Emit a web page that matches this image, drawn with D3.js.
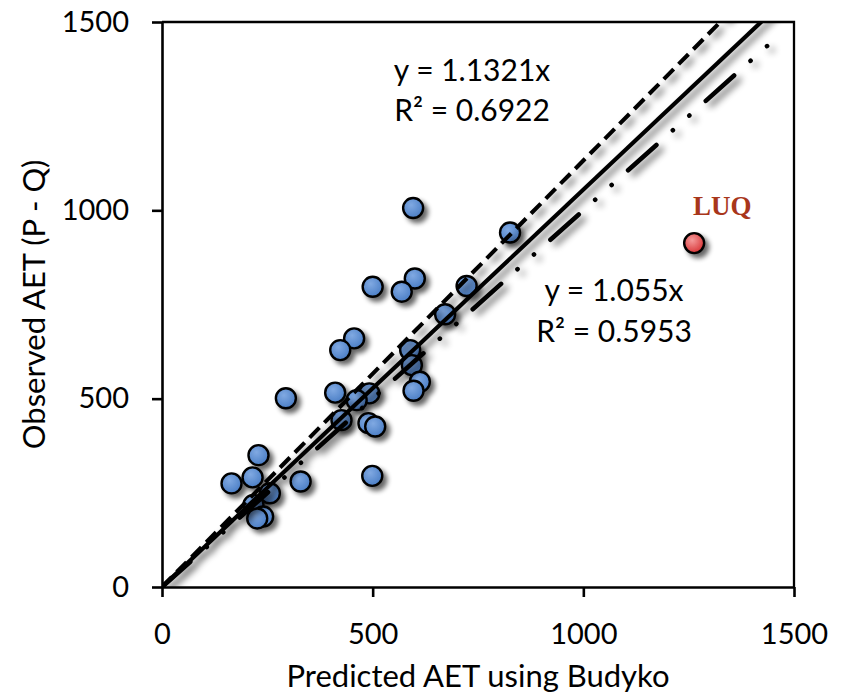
<!DOCTYPE html>
<html>
<head>
<meta charset="utf-8">
<script src="https://cdn.jsdelivr.net/npm/d3@7"></script>
<style>
  body { margin: 0; background: #fff; }
  svg { display: block; }
  text { font-family: Lato, "Open Sans", sans-serif; fill: #000; }
</style>
</head>
<body>
<svg id="chart" width="848" height="695"></svg>
<script>
// predicted AET (Budyko) vs observed AET (P - Q)
const predicted = [596, 600, 569, 500, 723, 672, 589, 593, 456, 423, 612, 597, 411, 294, 492,
                   462, 426, 490, 506, 826, 499, 229, 215, 165, 329, 256, 217, 240, 226];
const observed  = [1006, 819, 784, 797, 799, 724, 629, 589, 660, 629, 545, 521, 516, 501, 514,
                   496, 443, 435, 426, 941, 295, 350, 291, 275, 280, 249, 218, 187, 182];
const outlier = { name: "LUQ", x: 1263, y: 913 };
const ticks = [0, 500, 1000, 1500];
const fits = [
  { slope: 1.1321, r2: "0.6922", style: "dashed" },
  { slope: 1.055,  r2: "0.5953", style: "solid" },
  { slope: 1,      r2: null,     style: "oneToOne" }
];

const svg = d3.select("#chart");
const x = d3.scaleLinear().domain([0, 1500]).range([162, 794]);
const y = d3.scaleLinear().domain([0, 1500]).range([587, 22]);

const defs = svg.append("defs");
const shadow = defs.append("filter").attr("id", "shadow")
  .attr("x", "-30%").attr("y", "-30%").attr("width", "170%").attr("height", "170%");
shadow.append("feGaussianBlur").attr("in", "SourceAlpha").attr("stdDeviation", 2.5).attr("result", "blur");
shadow.append("feOffset").attr("in", "blur").attr("dx", 4).attr("dy", 4).attr("result", "off");
shadow.append("feComponentTransfer").attr("in", "off").attr("result", "soft")
  .append("feFuncA").attr("type", "linear").attr("slope", 0.6);
const merge = shadow.append("feMerge");
merge.append("feMergeNode").attr("in", "soft");
merge.append("feMergeNode").attr("in", "SourceGraphic");

const lineShadow = defs.append("filter").attr("id", "lineShadow")
  .attr("filterUnits", "userSpaceOnUse").attr("x", 0).attr("y", 0).attr("width", 848).attr("height", 695);
lineShadow.append("feGaussianBlur").attr("in", "SourceAlpha").attr("stdDeviation", 3.5).attr("result", "blur");
lineShadow.append("feOffset").attr("in", "blur").attr("dx", 5).attr("dy", 4).attr("result", "off");
lineShadow.append("feComponentTransfer").attr("in", "off").attr("result", "soft")
  .append("feFuncA").attr("type", "linear").attr("slope", 0.6);
const merge2 = lineShadow.append("feMerge");
merge2.append("feMergeNode").attr("in", "soft");
merge2.append("feMergeNode").attr("in", "SourceGraphic");

const blueGrad = defs.append("radialGradient").attr("id", "blueGrad")
  .attr("cx", "40%").attr("cy", "35%").attr("r", "65%");
blueGrad.append("stop").attr("offset", "0%").attr("stop-color", "#80a9e2");
blueGrad.append("stop").attr("offset", "100%").attr("stop-color", "#4c7fc6");
const redGrad = defs.append("radialGradient").attr("id", "redGrad")
  .attr("cx", "40%").attr("cy", "35%").attr("r", "65%");
redGrad.append("stop").attr("offset", "0%").attr("stop-color", "#f59a9a");
redGrad.append("stop").attr("offset", "100%").attr("stop-color", "#d9383a");

defs.append("clipPath").attr("id", "plotClip").append("rect")
  .attr("x", x(0)).attr("y", y(1500)).attr("width", x(1500) - x(0)).attr("height", y(0) - y(1500));

// points
const pts = svg.append("g").attr("class", "points").attr("filter", "url(#shadow)");
pts.selectAll("circle")
  .data(predicted.map((p, i) => ({ x: p, y: observed[i] })))
  .join("circle")
  .attr("cx", d => x(d.x))
  .attr("cy", d => y(d.y))
  .attr("r", 10)
  .attr("fill", "url(#blueGrad)")
  .attr("stroke", "#000")
  .attr("stroke-width", 2.4);

pts.append("circle")
  .attr("cx", x(outlier.x)).attr("cy", y(outlier.y)).attr("r", 10)
  .attr("fill", "url(#redGrad)").attr("stroke", "#000").attr("stroke-width", 2.4);

svg.append("text")
  .attr("x", x(outlier.x) + 28).attr("y", y(outlier.y) - 28)
  .attr("text-anchor", "middle")
  .style("font-family", "'Liberation Serif', serif")
  .style("font-weight", "bold")
  .style("font-size", "27px")
  .style("fill", "#a8361b")
  .text(outlier.name);

// fit lines
const dashFor = { dashed: "14 7", solid: null, oneToOne: "38 22 0.1 22 0.1 22" };
const endX = { dashed: 1500, solid: 1500, oneToOne: 1470 };
const lines = svg.append("g").attr("clip-path", "url(#plotClip)")
  .append("g").attr("filter", "url(#lineShadow)");
lines.selectAll("path")
  .data(fits)
  .join("path")
  .attr("d", d => d3.line()(
    [[x(0), y(0)], [x(endX[d.style]), y(endX[d.style] * d.slope)]]))
  .attr("fill", "none")
  .attr("stroke", "#000")
  .attr("stroke-width", d => d.style === "oneToOne" ? 4.6 : 4.1)
  .attr("stroke-linecap", d => d.style === "oneToOne" ? "round" : "butt")
  .attr("stroke-dasharray", d => dashFor[d.style]);

// equations
const eqPos = [[472, 81, 121], [614, 301, 342]];
fits.filter(f => f.r2).forEach((f, i) => {
  const t = svg.append("text").attr("text-anchor", "middle").style("font-size", "30px");
  t.append("tspan").attr("x", eqPos[i][0]).attr("y", eqPos[i][1]).text("y = " + f.slope + "x");
  t.append("tspan").attr("x", eqPos[i][0]).attr("y", eqPos[i][2]).text("R² = " + f.r2);
});

// axes
const xAxis = svg.append("g").attr("transform", `translate(0,${y(0)})`)
  .call(d3.axisBottom(x).tickValues(ticks).tickFormat(d3.format("d"))
    .tickSize(10).tickSizeOuter(0).tickPadding(26));
const yAxis = svg.append("g").attr("transform", `translate(${x(0)},0)`)
  .call(d3.axisLeft(y).tickValues(ticks).tickFormat(d3.format("d"))
    .tickSize(10).tickSizeOuter(0).tickPadding(23));
[xAxis, yAxis].forEach(a => {
  a.selectAll("path, line").attr("stroke", "#000").attr("stroke-width", 2.6);
  a.selectAll("text").style("font-size", "29px").style("font-family", "Lato, sans-serif");
});

svg.append("path")
  .attr("d", `M${x(0)},${y(1500)}H${x(1500)}V${y(0)}`)
  .attr("fill", "none").attr("stroke", "#000").attr("stroke-width", 2.3);

svg.append("text")
  .attr("x", (x(0) + x(1500)) / 2).attr("y", 687)
  .attr("text-anchor", "middle").style("font-size", "31px")
  .text("Predicted AET using Budyko");

svg.append("text")
  .attr("transform", `translate(45,${(y(0) + y(1500)) / 2}) rotate(-90)`)
  .attr("text-anchor", "middle").style("font-size", "31px")
  .text("Observed AET (P - Q)");
</script>
</body>
</html>
